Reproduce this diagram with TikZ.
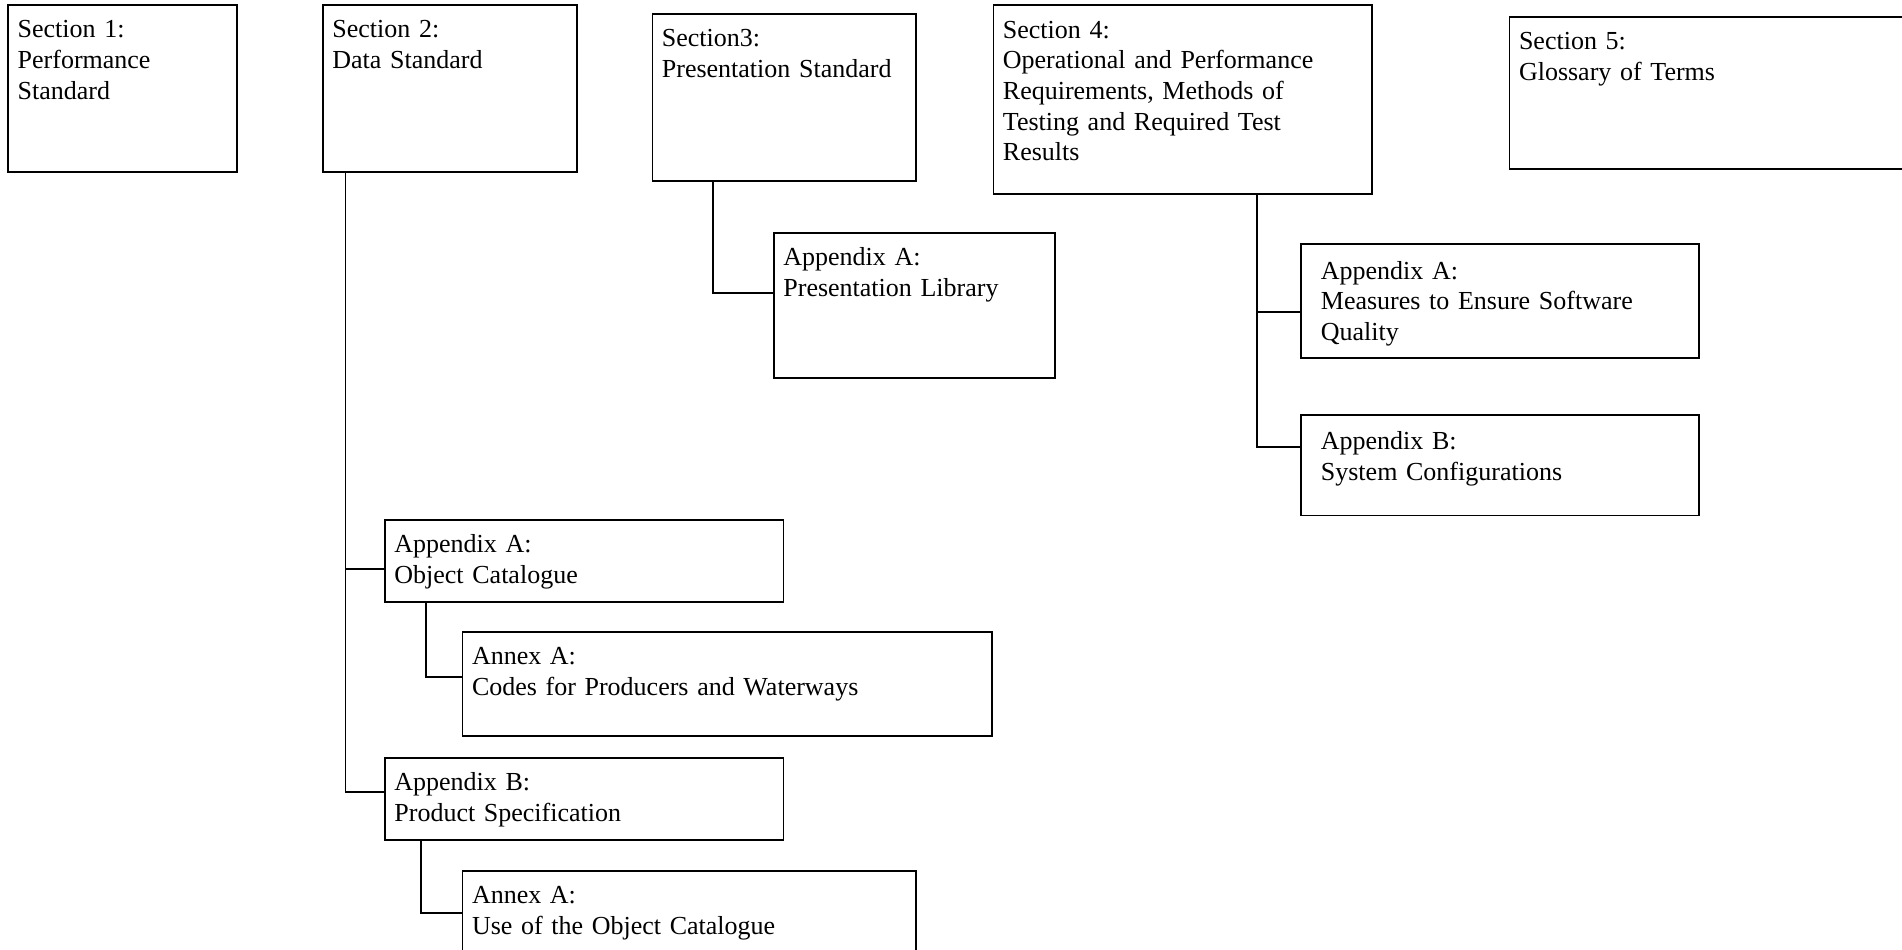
\documentclass[tikz,border=0pt]{standalone}
\usepackage{fontspec}
\setmainfont{Liberation Serif}

\begin{document}
\begin{tikzpicture}[
    x=0.5pt, y=-0.5pt,
    box/.style 2 args={draw, line width=0.9pt, anchor=north west, align=left, inner xsep=4.75pt, inner ysep=0pt, text height=16.5pt, text width=#1, text depth=#2, font={\fontsize{13}{15.3}\selectfont}},
    conn/.style={line width=0.9pt}
  ]
    \useasboundingbox (0,0) rectangle (1902,949);

    \node[box={104.85pt}{67pt}] (sec1) at (7.3,4) {Section 1:\\Performance\\Standard};
    \node[box={117.5pt}{67pt}] (sec2) at (322,4) {Section 2:\\Data Standard};
    \node[box={122.25pt}{67.15pt}] (sec3) at (651.5,12.7) {Section3:\\Presentation Standard};
    \node[box={179.75pt}{77.65pt}] (sec4) at (992.5,4.4) {Section 4:\\Operational and Performance\\Requirements, Methods of\\Testing and Required Test\\Results};
    \node[box={216.2pt}{59.55pt}] (sec5) at (1508.6,15.9) {Section 5:\\Glossary of Terms};

    \node[box={131pt}{56pt}] (sec3a) at (773,232) {Appendix A:\\Presentation Library};
    \node[box={179pt}{39.15pt}, inner xsep=10pt, text height=17.5pt] (sec4a) at (1300,243.4) {Appendix A:\\Measures to Ensure Software\\Quality};
    \node[box={179pt}{32.75pt}, inner xsep=10pt, text height=17.5pt] (sec4b) at (1300,414) {Appendix B:\\System Configurations};

    \node[box={189.8pt}{24.5pt}] (sec2a) at (384,518.7) {Appendix A:\\Object Catalogue};
    \node[box={255.2pt}{35.65pt}] (sec2aa) at (461.6,630.7) {Annex A:\\Codes for Producers and Waterways};
    \node[box={189.8pt}{24.65pt}] (sec2b) at (384,756.7) {Appendix B:\\Product Specification};
    \node[box={217.05pt}{48.5pt}] (sec2ba) at (461.6,870) {Annex A:\\Use of the Object Catalogue};

    \draw[conn] ([xshift=11.75pt]sec2.south west) |- ([yshift=-25pt]sec2a.north west);
    \draw[conn] ([xshift=11.75pt]sec2.south west) |- ([yshift=-17.8pt]sec2b.north west);
    \draw[conn] ([xshift=21.15pt]sec2a.south west) |- ([yshift=-23pt]sec2aa.north west);
    \draw[conn] ([xshift=18.5pt]sec2b.south west) |- ([yshift=-21.65pt]sec2ba.north west);
    \draw[conn] ([xshift=30.75pt]sec3.south west) |- ([yshift=-30.35pt]sec3a.north west);
    \draw[conn] ([xshift=132.05pt]sec4.south west) |- ([yshift=-34.15pt]sec4a.north west);
    \draw[conn] ([xshift=132.05pt]sec4.south west) |- ([yshift=-16.65pt]sec4b.north west);
  \end{tikzpicture}
\end{document}
